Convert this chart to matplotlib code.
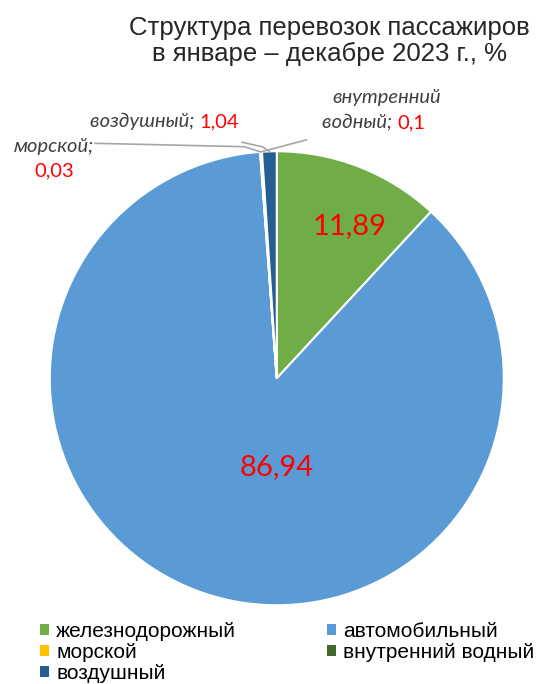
"""
structure of passenger transport, Jan-Dec 2023
"""

import numpy as np
import matplotlib.pyplot as plt
from matplotlib.patches import Patch

categories = ['железнодорожный', 'автомобильный', 'морской', 'внутренний водный', 'воздушный']
shares = [11.89, 86.94, 0.03, 0.1, 1.04]
share_labels = ['11,89', '86,94', '0,03', '0,1', '1,04']
colors = ['#70AD47', '#5B9BD5', '#FFC000', '#43682B', '#255E91']

fig = plt.figure(figsize=(5.47, 6.84), dpi=100)
# pie axes, centre at ~(277, 378) px, radius ~227 px
ax = fig.add_axes([0.091, 0.115, 0.830, 0.664])
wedges, _ = ax.pie(shares, colors=colors, startangle=90, counterclock=False,
                   radius=1.0, wedgeprops=dict(edgecolor='white', linewidth=1.5))
ax.set_xlim(-1, 1)
ax.set_ylim(-1, 1)
ax.set_aspect('equal')
ax.axis('off')

red = '#FF0000'
dark = '#404040'


def mid(w):
    a = np.deg2rad((w.theta1 + w.theta2) / 2.)
    return np.cos(a), np.sin(a)


# big labels inside
ax.text(0.32, 0.67, share_labels[0], color=red, fontsize=21,
        family='Lato', ha='center', va='center')
ax.text(0.0, -0.39, share_labels[1], color=red, fontsize=21,
        family='Lato', ha='center', va='center')

# small slices: leader lines from the edge
lc = '#A6A6A6'
x, y = mid(wedges[2])
ax.plot([x, x * 1.02 - 0.07, -0.8], [y, 1.02, 1.035], color=lc, lw=1.2, clip_on=False)
x, y = mid(wedges[4])
ax.plot([x, x - 0.03, x - 0.12], [y, y + 0.02, y + 0.04], color=lc, lw=1.2, clip_on=False)
x, y = mid(wedges[3])
ax.plot([x, 0.13], [y, 1.05], color=lc, lw=1.2, clip_on=False)

kw = dict(fontsize=14.5, family='Lato', clip_on=False)
ax.text(-0.34, 1.13, 'воздушный; ', color=dark, style='italic', ha='right', va='center', **kw)
ax.text(-0.34, 1.13, share_labels[4], color=red, ha='left', va='center', **kw)
ax.text(0.485, 1.235, 'внутренний', color=dark, style='italic', ha='center', va='center', **kw)
ax.text(0.53, 1.125, 'водный; ', color=dark, style='italic', ha='right', va='center', **kw)
ax.text(0.53, 1.125, share_labels[3], color=red, ha='left', va='center', **kw)
ax.text(-0.98, 1.02, 'морской;', color=dark, style='italic', ha='center', va='center', **kw)
ax.text(-0.98, 0.915, share_labels[2], color=red, ha='center', va='center', **kw)

fig.text(0.603, 0.976, 'Структура перевозок пассажиров\nв январе – декабре 2023 г., %',
         ha='center', va='top', fontsize=18.5, family='Liberation Sans',
         color='#262626', linespacing=1.1)

# legend is filled by column, so reorder to read row by row
order = [0, 2, 4, 1, 3]
handles = [Patch(facecolor=colors[i], edgecolor='none') for i in order]
fig.legend(handles, [categories[i] for i in order], loc='lower left',
           bbox_to_anchor=(0.038, -0.026),
           ncol=2, frameon=False, prop=dict(family='Liberation Sans', size=15),
           handlelength=0.45, handleheight=0.45, handletextpad=0.35,
           columnspacing=4.35, labelspacing=0.1)

plt.savefig('out.png', dpi=100)
